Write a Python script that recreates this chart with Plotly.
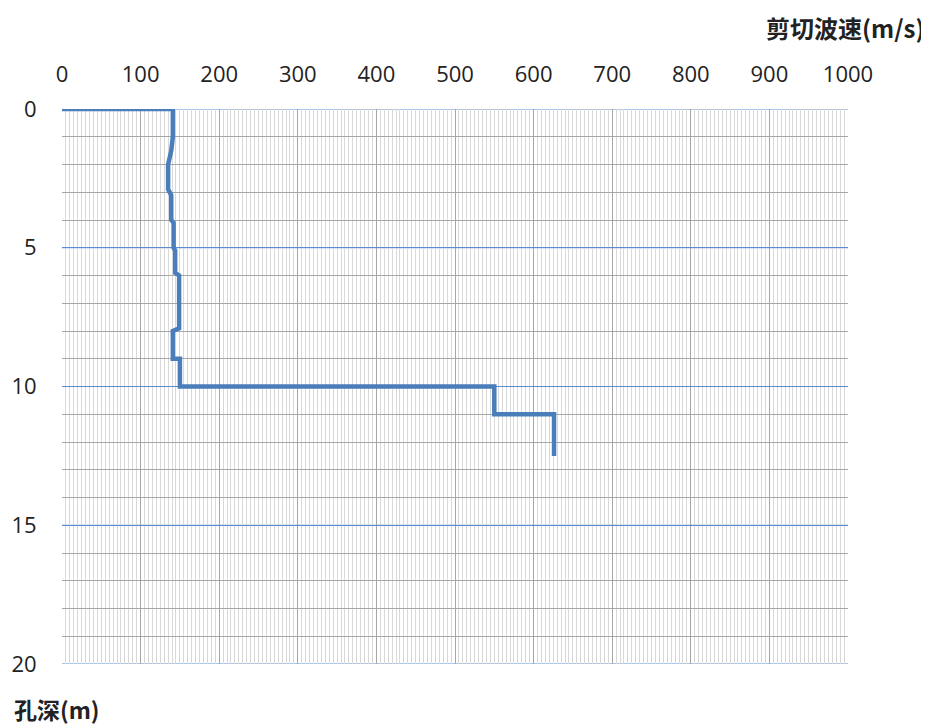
import plotly.graph_objects as go

# Shear-wave velocity profile (polyline vertices)
velocity = [0, 141, 141, 139, 135, 135, 139, 139, 142, 142, 144, 144, 149, 149, 141, 141, 150, 150, 550, 550, 626, 626]
depth    = [0, 0,   1,   1.5, 2,   2.9, 3.1, 4,   4.1, 5,   5.1, 5.9, 6,   7.9, 8,   9,   9,   10,  10,  11,  11,  12.5]

x_ticks = [0, 100, 200, 300, 400, 500, 600, 700, 800, 900, 1000]
y_ticks = [0, 5, 10, 15, 20]
y_minor = [d for d in range(1, 20) if d % 5 != 0]
x_minor = [v for v in range(5, 1000, 5) if v % 100 != 0]

fig = go.Figure()
fig.add_trace(go.Scatter(
    x=velocity, y=depth, mode="lines",
    line=dict(color="#4a7ebb", width=4.5),
    showlegend=False, hoverinfo="skip"))

# blue major horizontal gridlines
for yv in y_ticks:
    fig.add_shape(type="line", xref="paper", yref="y", x0=0, x1=1, y0=yv, y1=yv,
                  line=dict(color="#5b8bd0", width=1), layer="below")

tick_font = dict(family="Open Sans, Liberation Sans, sans-serif", size=22, color="#222222")

fig.update_layout(
    width=921, height=720,
    margin=dict(l=54, r=81, t=101, b=64, autoexpand=False),
    plot_bgcolor="white", paper_bgcolor="white",
    xaxis=dict(
        side="top", range=[0, 1000], tickvals=x_ticks,
        ticktext=[str(v) for v in x_ticks], automargin=False,
        showgrid=True, gridcolor="#a6a6a6", gridwidth=1,
        zeroline=False, showline=False,
        ticks="outside", ticklen=17, tickcolor="rgba(0,0,0,0)",
        tickfont=tick_font,
        minor=dict(tickvals=x_minor, showgrid=True, gridcolor="#d9d9d9", gridwidth=1),
    ),
    yaxis=dict(
        range=[20, 0], tickvals=y_ticks,
        ticktext=[str(v) for v in y_ticks], automargin=False,
        showgrid=True, gridcolor="#5b8bd0", gridwidth=1,
        zeroline=False, showline=False,
        ticks="outside", ticklen=20, tickcolor="rgba(0,0,0,0)",
        tickfont=tick_font,
        minor=dict(tickvals=y_minor, showgrid=True, gridcolor="#a6a6a6", gridwidth=1),
    ),
    annotations=[
        dict(text="<b>剪切波速(m/s)</b>", xref="paper", yref="paper",
             x=1.099, y=1.0, xanchor="right", yanchor="middle", yshift=82,
             showarrow=False,
             font=dict(family="Noto Sans CJK SC, sans-serif", size=24, color="#222222")),
        dict(text="<b>孔深(m)</b>", xref="paper", yref="paper",
             x=-0.063, y=0, xanchor="left", yanchor="middle", yshift=-45,
             showarrow=False,
             font=dict(family="Noto Sans CJK SC, sans-serif", size=23, color="#222222")),
    ],
)

fig.write_html("out.html")
